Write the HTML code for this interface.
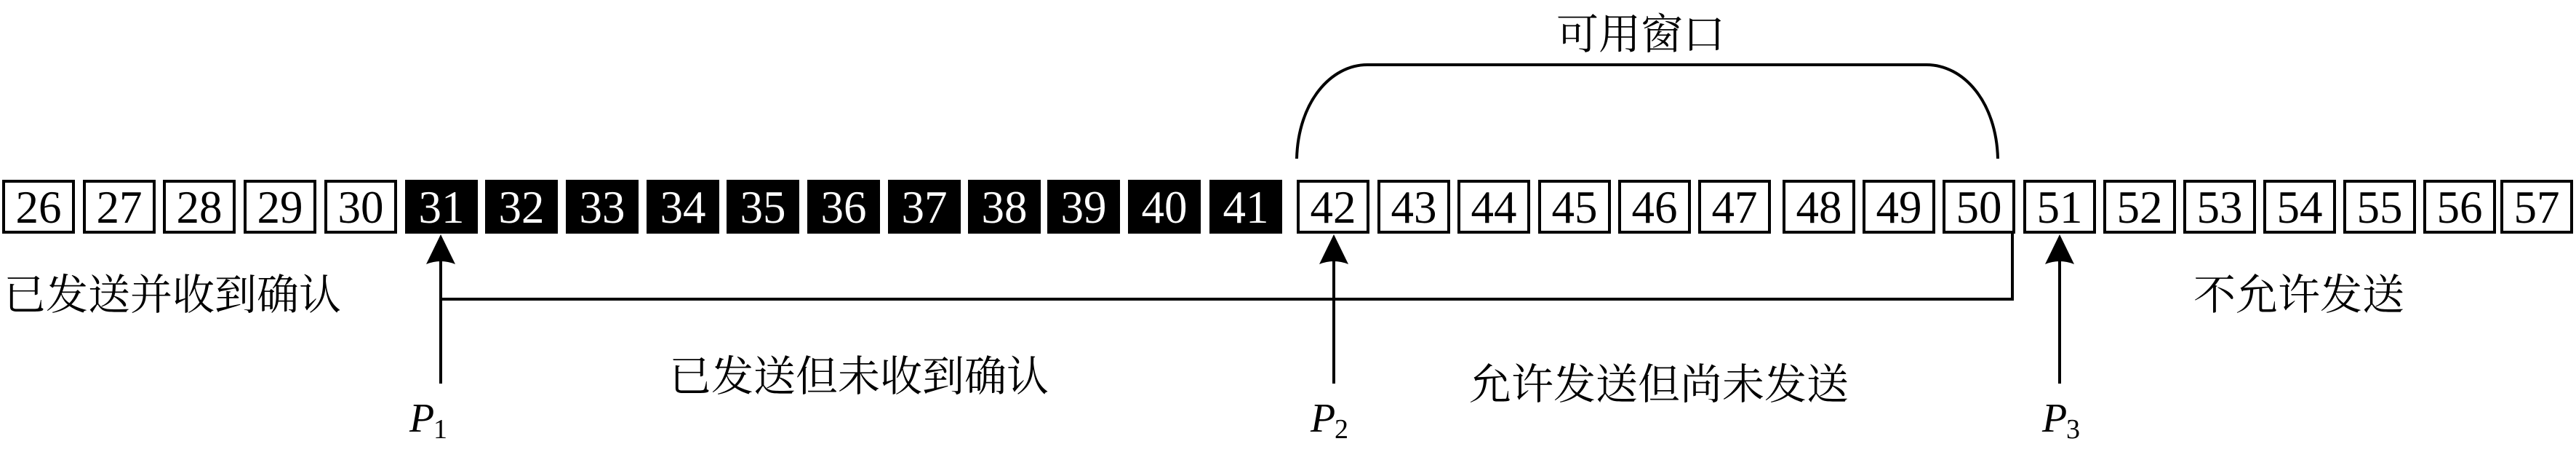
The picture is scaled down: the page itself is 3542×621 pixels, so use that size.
<!DOCTYPE html>
<html><head><meta charset="utf-8"><style>
html,body{margin:0;padding:0;background:#fff;}
svg{display:block;}
.n{font-family:"Liberation Serif",serif;font-size:63px;text-anchor:middle;}
.c{font-family:"Liberation Serif","Noto Serif CJK SC",serif;font-size:58px;}
.p{font-family:"Liberation Serif",serif;font-style:italic;font-size:56px;}
.s{font-family:"Liberation Serif",serif;font-size:38px;}
</style></head><body>
<svg width="3542" height="621" viewBox="0 0 3542 621" xmlns="http://www.w3.org/2000/svg">
<g id="boxes"></g>
<path d="M1783 218 C1785 140 1830 89 1880 89 L2649 89 C2700 89 2745 140 2747 218" fill="none" stroke="#000" stroke-width="4"/>
<text class="c" x="2140" y="67">可用窗口</text>
<polyline points="2767,321 2767,411 606,411" fill="none" stroke="#000" stroke-width="4"/>
<g stroke="#000" stroke-width="4">
<line x1="606" y1="355" x2="606" y2="527"/>
<line x1="1834" y1="355" x2="1834" y2="527"/>
<line x1="2832" y1="355" x2="2832" y2="527"/>
</g>
<g fill="#000">
<path d="M606 322 L586 363 Q606 355 626 363 Z"/>
<path d="M1834 322 L1814 363 Q1834 355 1854 363 Z"/>
<path d="M2832 322 L2812 363 Q2832 355 2852 363 Z"/>
</g>
<text class="c" x="5" y="425">已发送并收到确认</text>
<text class="c" x="3016" y="425">不允许发送</text>
<text class="c" x="920" y="537">已发送但未收到确认</text>
<text class="c" x="2020" y="548">允许发送但尚未发送</text>
<text class="p" x="563" y="593">P</text><text class="s" x="596" y="602">1</text>
<text class="p" x="1802" y="593">P</text><text class="s" x="1835" y="602">2</text>
<text class="p" x="2808" y="593">P</text><text class="s" x="2841" y="602">3</text>
<g>
<rect x="5" y="249" width="96" height="70" fill="#fff" stroke="#000" stroke-width="4"/><text class="n" x="53" y="306">26</text>
<rect x="116" y="249" width="96" height="70" fill="#fff" stroke="#000" stroke-width="4"/><text class="n" x="164" y="306">27</text>
<rect x="226" y="249" width="96" height="70" fill="#fff" stroke="#000" stroke-width="4"/><text class="n" x="274" y="306">28</text>
<rect x="337" y="249" width="96" height="70" fill="#fff" stroke="#000" stroke-width="4"/><text class="n" x="385" y="306">29</text>
<rect x="448" y="249" width="96" height="70" fill="#fff" stroke="#000" stroke-width="4"/><text class="n" x="496" y="306">30</text>
<rect x="557" y="247" width="100" height="74" fill="#000"/><text class="n" x="607" y="306" fill="#fff">31</text>
<rect x="667" y="247" width="100" height="74" fill="#000"/><text class="n" x="717" y="306" fill="#fff">32</text>
<rect x="778" y="247" width="100" height="74" fill="#000"/><text class="n" x="828" y="306" fill="#fff">33</text>
<rect x="889" y="247" width="100" height="74" fill="#000"/><text class="n" x="939" y="306" fill="#fff">34</text>
<rect x="999" y="247" width="100" height="74" fill="#000"/><text class="n" x="1049" y="306" fill="#fff">35</text>
<rect x="1110" y="247" width="100" height="74" fill="#000"/><text class="n" x="1160" y="306" fill="#fff">36</text>
<rect x="1221" y="247" width="100" height="74" fill="#000"/><text class="n" x="1271" y="306" fill="#fff">37</text>
<rect x="1331" y="247" width="100" height="74" fill="#000"/><text class="n" x="1381" y="306" fill="#fff">38</text>
<rect x="1440" y="247" width="100" height="74" fill="#000"/><text class="n" x="1490" y="306" fill="#fff">39</text>
<rect x="1551" y="247" width="100" height="74" fill="#000"/><text class="n" x="1601" y="306" fill="#fff">40</text>
<rect x="1663" y="247" width="100" height="74" fill="#000"/><text class="n" x="1713" y="306" fill="#fff">41</text>
<rect x="1785" y="249" width="96" height="70" fill="#fff" stroke="#000" stroke-width="4"/><text class="n" x="1833" y="306">42</text>
<rect x="1896" y="249" width="96" height="70" fill="#fff" stroke="#000" stroke-width="4"/><text class="n" x="1944" y="306">43</text>
<rect x="2006" y="249" width="96" height="70" fill="#fff" stroke="#000" stroke-width="4"/><text class="n" x="2054" y="306">44</text>
<rect x="2117" y="249" width="96" height="70" fill="#fff" stroke="#000" stroke-width="4"/><text class="n" x="2165" y="306">45</text>
<rect x="2227" y="249" width="96" height="70" fill="#fff" stroke="#000" stroke-width="4"/><text class="n" x="2275" y="306">46</text>
<rect x="2337" y="249" width="96" height="70" fill="#fff" stroke="#000" stroke-width="4"/><text class="n" x="2385" y="306">47</text>
<rect x="2453" y="249" width="96" height="70" fill="#fff" stroke="#000" stroke-width="4"/><text class="n" x="2501" y="306">48</text>
<rect x="2563" y="249" width="96" height="70" fill="#fff" stroke="#000" stroke-width="4"/><text class="n" x="2611" y="306">49</text>
<rect x="2673" y="249" width="96" height="70" fill="#fff" stroke="#000" stroke-width="4"/><text class="n" x="2721" y="306">50</text>
<rect x="2784" y="249" width="96" height="70" fill="#fff" stroke="#000" stroke-width="4"/><text class="n" x="2832" y="306">51</text>
<rect x="2894" y="249" width="96" height="70" fill="#fff" stroke="#000" stroke-width="4"/><text class="n" x="2942" y="306">52</text>
<rect x="3004" y="249" width="96" height="70" fill="#fff" stroke="#000" stroke-width="4"/><text class="n" x="3052" y="306">53</text>
<rect x="3114" y="249" width="96" height="70" fill="#fff" stroke="#000" stroke-width="4"/><text class="n" x="3162" y="306">54</text>
<rect x="3224" y="249" width="96" height="70" fill="#fff" stroke="#000" stroke-width="4"/><text class="n" x="3272" y="306">55</text>
<rect x="3334" y="249" width="96" height="70" fill="#fff" stroke="#000" stroke-width="4"/><text class="n" x="3382" y="306">56</text>
<rect x="3440" y="249" width="96" height="70" fill="#fff" stroke="#000" stroke-width="4"/><text class="n" x="3488" y="306">57</text>
</g>
</svg>
</body></html>
